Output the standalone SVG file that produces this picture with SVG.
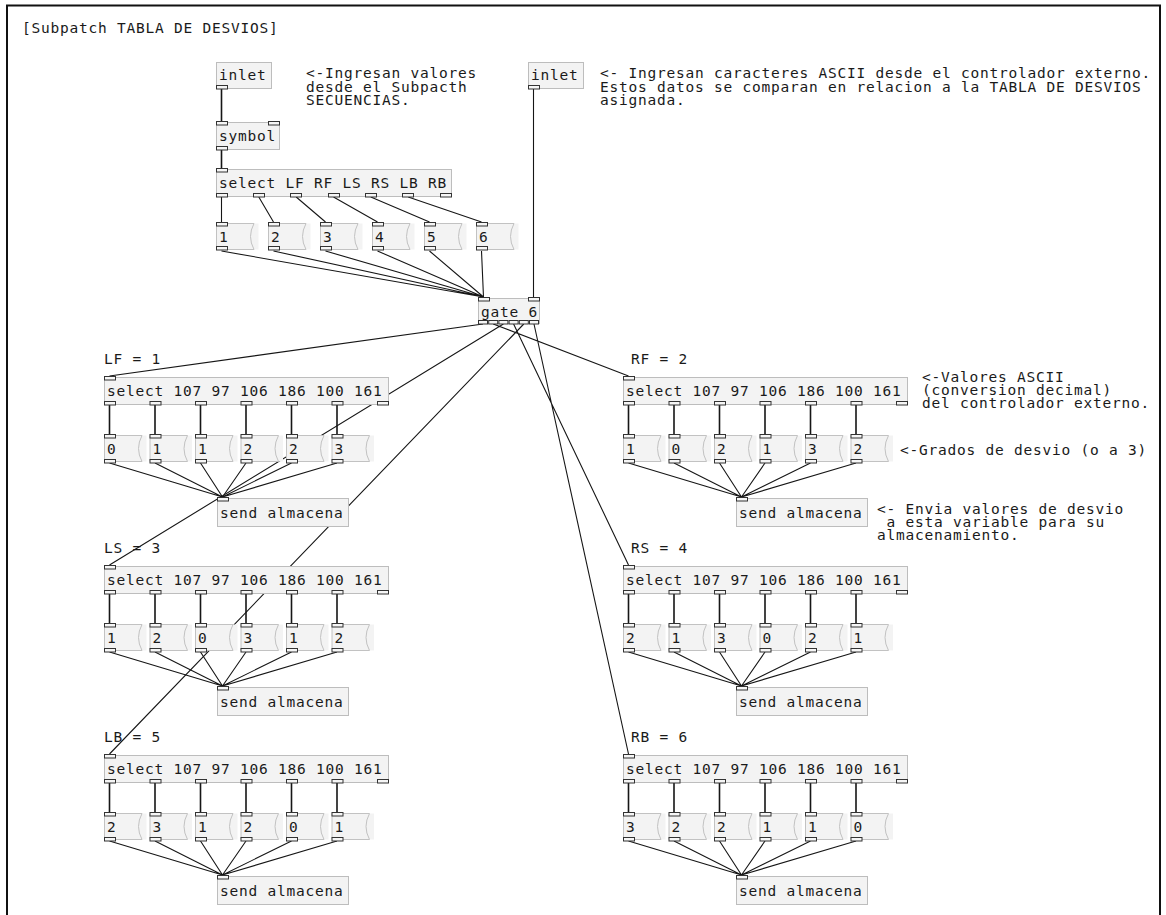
<svg xmlns="http://www.w3.org/2000/svg" width="1166" height="915" viewBox="0 0 1166 915">
<style>
.t{font-family:"DejaVu Sans Mono","Liberation Mono",monospace;font-size:14.5px;letter-spacing:0.77px;fill:#1a1a1a}
.box{fill:#f3f3f3;stroke:#bdbdbd;stroke-width:1}
.mf{fill:#f3f3f3;stroke:none}
.mo{fill:none;stroke:#c2c2c2;stroke-width:1}
.io{fill:#f6f6f6;stroke:#333;stroke-width:1}
.c{stroke:#161616;stroke-width:1.1;fill:none}
.v{stroke-width:1.6}
</style>
<defs>
<g id="msgshape">
<rect class="mf" x="0.5" y="0.5" width="42" height="26"/>
<path class="mo" d="M38,0.5 H0.5 V26.5 H38 M38,0.5 Q31,13.5 38,26.5"/>
</g>
</defs>
<rect x="0" y="0" width="1166" height="915" fill="#ffffff"/>
<path d="M7,915 V5.5 H1160 V915" fill="none" stroke="#111" stroke-width="2"/>
<text class="t" x="22" y="33">[Subpatch TABLA DE DESVIOS]</text>

<!-- comments -->
<g id="comment-ingresan">
<text class="t" x="306" y="78">&lt;-Ingresan valores<tspan x="306" dy="13.5">desde el Subpacth</tspan><tspan x="306" dy="13.5">SECUENCIAS.</tspan></text>
</g>
<g id="comment-ascii">
<text class="t" x="600" y="78">&lt;- Ingresan caracteres ASCII desde el controlador externo.<tspan x="600" dy="13.5">Estos datos se comparan en relacion a la TABLA DE DESVIOS</tspan><tspan x="600" dy="13.5">asignada.</tspan></text>
</g>
<g id="comment-valores">
<text class="t" x="922" y="382">&lt;-Valores ASCII<tspan x="922" dy="13">(conversion decimal)</tspan><tspan x="922" dy="13">del controlador externo.</tspan></text>
</g>
<g id="comment-grados">
<text class="t" x="900" y="455">&lt;-Grados de desvio (o a 3)</text>
</g>
<g id="comment-envia">
<text class="t" x="877" y="514" xml:space="preserve">&lt;- Envia valores de desvio<tspan x="877" dy="13"> a esta variable para su</tspan><tspan x="877" dy="13">almacenamiento.</tspan></text>
</g>

<!-- connectors -->
<g id="connectors" class="c">
<path class="v" d="M221.5,89 V121 M221.5,150 V168"/>
<path d="M221.5,197 V222 M258.8,197 L273.5,222 M296.2,197 L325.5,222 M333.5,197 L377.5,222 M370.8,197 L429.5,222 M408.2,197 L481.5,222"/>
<path d="M221.5,251 L483.5,297 M273.5,251 L483.5,297 M325.5,251 L483.5,297 M377.5,251 L483.5,297 M429.5,251 L483.5,297 M481.5,251 L483.5,297"/>
<path d="M533.5,89 V297"/>
<path d="M483,324 L109.5,376 M493.2,324 L628.5,376 M503.4,324 L109.5,565 M513.6,324 L628.5,565 M523.8,324 L109.5,754 M534,324 L628.5,754"/>
<g id="sec-conn-lf" transform="translate(104,377)">
<path class="v" d="M5.5,28 V57 M51,28 V57 M96.5,28 V57 M142,28 V57 M187.5,28 V57 M233,28 V57"/>
<path d="M5.5,86 L118.5,120 M51,86 L118.5,120 M96.5,86 L118.5,120 M142,86 L118.5,120 M187.5,86 L118.5,120 M233,86 L118.5,120"/>
</g>
<g id="sec-conn-rf" transform="translate(623,377)">
<path class="v" d="M5.5,28 V57 M51,28 V57 M96.5,28 V57 M142,28 V57 M187.5,28 V57 M233,28 V57"/>
<path d="M5.5,86 L118.5,120 M51,86 L118.5,120 M96.5,86 L118.5,120 M142,86 L118.5,120 M187.5,86 L118.5,120 M233,86 L118.5,120"/>
</g>
<g id="sec-conn-ls" transform="translate(104,566)">
<path class="v" d="M5.5,28 V57 M51,28 V57 M96.5,28 V57 M142,28 V57 M187.5,28 V57 M233,28 V57"/>
<path d="M5.5,86 L118.5,120 M51,86 L118.5,120 M96.5,86 L118.5,120 M142,86 L118.5,120 M187.5,86 L118.5,120 M233,86 L118.5,120"/>
</g>
<g id="sec-conn-rs" transform="translate(623,566)">
<path class="v" d="M5.5,28 V57 M51,28 V57 M96.5,28 V57 M142,28 V57 M187.5,28 V57 M233,28 V57"/>
<path d="M5.5,86 L118.5,120 M51,86 L118.5,120 M96.5,86 L118.5,120 M142,86 L118.5,120 M187.5,86 L118.5,120 M233,86 L118.5,120"/>
</g>
<g id="sec-conn-lb" transform="translate(104,755)">
<path class="v" d="M5.5,28 V57 M51,28 V57 M96.5,28 V57 M142,28 V57 M187.5,28 V57 M233,28 V57"/>
<path d="M5.5,86 L118.5,120 M51,86 L118.5,120 M96.5,86 L118.5,120 M142,86 L118.5,120 M187.5,86 L118.5,120 M233,86 L118.5,120"/>
</g>
<g id="sec-conn-rb" transform="translate(623,755)">
<path class="v" d="M5.5,28 V57 M51,28 V57 M96.5,28 V57 M142,28 V57 M187.5,28 V57 M233,28 V57"/>
<path d="M5.5,86 L118.5,120 M51,86 L118.5,120 M96.5,86 L118.5,120 M142,86 L118.5,120 M187.5,86 L118.5,120 M233,86 L118.5,120"/>
</g>
</g>

<!-- top nodes -->
<g id="inlet1"><rect class="box" x="216.5" y="62.5" width="55" height="26"/><rect class="io" x="216.5" y="85.5" width="11" height="3.5"/><text class="t" x="219" y="80">inlet</text></g>
<g id="symbol"><rect class="box" x="216.5" y="122.5" width="63" height="27"/><rect class="io" x="216.5" y="121.5" width="11" height="3.5"/><rect class="io" x="268.5" y="121.5" width="11" height="3.5"/><rect class="io" x="216.5" y="146.5" width="11" height="3.5"/><text class="t" x="219" y="141">symbol</text></g>
<g id="select-top"><rect class="box" x="216.5" y="169.5" width="235" height="27"/><rect class="io" x="216.5" y="168.5" width="11" height="3.5"/>
<rect class="io" x="216.5" y="193.5" width="11" height="3.5"/><rect class="io" x="253.5" y="193.5" width="11" height="3.5"/><rect class="io" x="290.5" y="193.5" width="11" height="3.5"/><rect class="io" x="328.5" y="193.5" width="11" height="3.5"/><rect class="io" x="365.5" y="193.5" width="11" height="3.5"/><rect class="io" x="402.5" y="193.5" width="11" height="3.5"/><rect class="io" x="440.5" y="193.5" width="11" height="3.5"/>
<text class="t" x="219" y="188">select LF RF LS RS LB RB</text></g>
<g id="msg-top-1" transform="translate(216,223)"><use href="#msgshape"/><rect class="io" x="0.5" y="-0.5" width="11" height="3.5"/><rect class="io" x="0.5" y="23.5" width="11" height="3.5"/><text class="t" x="3" y="18.5">1</text></g>
<g id="msg-top-2" transform="translate(268,223)"><use href="#msgshape"/><rect class="io" x="0.5" y="-0.5" width="11" height="3.5"/><rect class="io" x="0.5" y="23.5" width="11" height="3.5"/><text class="t" x="3" y="18.5">2</text></g>
<g id="msg-top-3" transform="translate(320,223)"><use href="#msgshape"/><rect class="io" x="0.5" y="-0.5" width="11" height="3.5"/><rect class="io" x="0.5" y="23.5" width="11" height="3.5"/><text class="t" x="3" y="18.5">3</text></g>
<g id="msg-top-4" transform="translate(372,223)"><use href="#msgshape"/><rect class="io" x="0.5" y="-0.5" width="11" height="3.5"/><rect class="io" x="0.5" y="23.5" width="11" height="3.5"/><text class="t" x="3" y="18.5">4</text></g>
<g id="msg-top-5" transform="translate(424,223)"><use href="#msgshape"/><rect class="io" x="0.5" y="-0.5" width="11" height="3.5"/><rect class="io" x="0.5" y="23.5" width="11" height="3.5"/><text class="t" x="3" y="18.5">5</text></g>
<g id="msg-top-6" transform="translate(476,223)"><use href="#msgshape"/><rect class="io" x="0.5" y="-0.5" width="11" height="3.5"/><rect class="io" x="0.5" y="23.5" width="11" height="3.5"/><text class="t" x="3" y="18.5">6</text></g>
<g id="inlet2"><rect class="box" x="528.5" y="62.5" width="55" height="26"/><rect class="io" x="528.5" y="85.5" width="11" height="3.5"/><text class="t" x="531" y="80">inlet</text></g>
<g id="gate"><rect class="box" x="478.5" y="298.5" width="61" height="25"/><rect class="io" x="478.5" y="297.5" width="11" height="3.5"/><rect class="io" x="528.5" y="297.5" width="11" height="3.5"/>
<rect class="io" x="478.5" y="320.5" width="9" height="3.5"/><rect class="io" x="488.7" y="320.5" width="9" height="3.5"/><rect class="io" x="498.9" y="320.5" width="9" height="3.5"/><rect class="io" x="509.1" y="320.5" width="9" height="3.5"/><rect class="io" x="519.3" y="320.5" width="9" height="3.5"/><rect class="io" x="529.5" y="320.5" width="9" height="3.5"/>
<text class="t" x="481" y="316.5">gate 6</text></g>

<!-- sections -->
<g id="sec-lf" transform="translate(104,377)">
<text class="t" x="0" y="-13">LF = 1</text>
<g id="lf-select"><rect class="box" x="0.5" y="0.5" width="284" height="27"/><rect class="io" x="0.5" y="-0.5" width="11" height="3.5"/><rect class="io" x="0.5" y="24.5" width="11" height="3.5"/><rect class="io" x="46" y="24.5" width="11" height="3.5"/><rect class="io" x="91.5" y="24.5" width="11" height="3.5"/><rect class="io" x="137" y="24.5" width="11" height="3.5"/><rect class="io" x="182.5" y="24.5" width="11" height="3.5"/><rect class="io" x="228" y="24.5" width="11" height="3.5"/><rect class="io" x="273.5" y="24.5" width="11" height="3.5"/><text class="t" x="3" y="19">select 107 97 106 186 100 161</text></g>
<g id="lf-m1" transform="translate(0,58)"><use href="#msgshape"/><rect class="io" x="0.5" y="-0.5" width="11" height="3.5"/><rect class="io" x="0.5" y="24.5" width="11" height="3.5"/><text class="t" x="3" y="18.5">0</text></g>
<g id="lf-m2" transform="translate(45.5,58)"><use href="#msgshape"/><rect class="io" x="0.5" y="-0.5" width="11" height="3.5"/><rect class="io" x="0.5" y="24.5" width="11" height="3.5"/><text class="t" x="3" y="18.5">1</text></g>
<g id="lf-m3" transform="translate(91,58)"><use href="#msgshape"/><rect class="io" x="0.5" y="-0.5" width="11" height="3.5"/><rect class="io" x="0.5" y="24.5" width="11" height="3.5"/><text class="t" x="3" y="18.5">1</text></g>
<g id="lf-m4" transform="translate(136.5,58)"><use href="#msgshape"/><rect class="io" x="0.5" y="-0.5" width="11" height="3.5"/><rect class="io" x="0.5" y="24.5" width="11" height="3.5"/><text class="t" x="3" y="18.5">2</text></g>
<g id="lf-m5" transform="translate(182,58)"><use href="#msgshape"/><rect class="io" x="0.5" y="-0.5" width="11" height="3.5"/><rect class="io" x="0.5" y="24.5" width="11" height="3.5"/><text class="t" x="3" y="18.5">2</text></g>
<g id="lf-m6" transform="translate(227.5,58)"><use href="#msgshape"/><rect class="io" x="0.5" y="-0.5" width="11" height="3.5"/><rect class="io" x="0.5" y="24.5" width="11" height="3.5"/><text class="t" x="3" y="18.5">3</text></g>
<g id="lf-send" transform="translate(113,121)"><rect class="box" x="0.5" y="0.5" width="131" height="28"/><rect class="io" x="0.5" y="-0.5" width="11" height="3.5"/><text class="t" x="3" y="19.5">send almacena</text></g>
</g>

<g id="sec-rf" transform="translate(623,377)">
<text class="t" x="8" y="-13">RF = 2</text>
<g id="rf-select"><rect class="box" x="0.5" y="0.5" width="284" height="27"/><rect class="io" x="0.5" y="-0.5" width="11" height="3.5"/><rect class="io" x="0.5" y="24.5" width="11" height="3.5"/><rect class="io" x="46" y="24.5" width="11" height="3.5"/><rect class="io" x="91.5" y="24.5" width="11" height="3.5"/><rect class="io" x="137" y="24.5" width="11" height="3.5"/><rect class="io" x="182.5" y="24.5" width="11" height="3.5"/><rect class="io" x="228" y="24.5" width="11" height="3.5"/><rect class="io" x="273.5" y="24.5" width="11" height="3.5"/><text class="t" x="3" y="19">select 107 97 106 186 100 161</text></g>
<g id="rf-m1" transform="translate(0,58)"><use href="#msgshape"/><rect class="io" x="0.5" y="-0.5" width="11" height="3.5"/><rect class="io" x="0.5" y="24.5" width="11" height="3.5"/><text class="t" x="3" y="18.5">1</text></g>
<g id="rf-m2" transform="translate(45.5,58)"><use href="#msgshape"/><rect class="io" x="0.5" y="-0.5" width="11" height="3.5"/><rect class="io" x="0.5" y="24.5" width="11" height="3.5"/><text class="t" x="3" y="18.5">0</text></g>
<g id="rf-m3" transform="translate(91,58)"><use href="#msgshape"/><rect class="io" x="0.5" y="-0.5" width="11" height="3.5"/><rect class="io" x="0.5" y="24.5" width="11" height="3.5"/><text class="t" x="3" y="18.5">2</text></g>
<g id="rf-m4" transform="translate(136.5,58)"><use href="#msgshape"/><rect class="io" x="0.5" y="-0.5" width="11" height="3.5"/><rect class="io" x="0.5" y="24.5" width="11" height="3.5"/><text class="t" x="3" y="18.5">1</text></g>
<g id="rf-m5" transform="translate(182,58)"><use href="#msgshape"/><rect class="io" x="0.5" y="-0.5" width="11" height="3.5"/><rect class="io" x="0.5" y="24.5" width="11" height="3.5"/><text class="t" x="3" y="18.5">3</text></g>
<g id="rf-m6" transform="translate(227.5,58)"><use href="#msgshape"/><rect class="io" x="0.5" y="-0.5" width="11" height="3.5"/><rect class="io" x="0.5" y="24.5" width="11" height="3.5"/><text class="t" x="3" y="18.5">2</text></g>
<g id="rf-send" transform="translate(113,121)"><rect class="box" x="0.5" y="0.5" width="131" height="28"/><rect class="io" x="0.5" y="-0.5" width="11" height="3.5"/><text class="t" x="3" y="19.5">send almacena</text></g>
</g>

<g id="sec-ls" transform="translate(104,566)">
<text class="t" x="0" y="-13">LS = 3</text>
<g id="ls-select"><rect class="box" x="0.5" y="0.5" width="284" height="27"/><rect class="io" x="0.5" y="-0.5" width="11" height="3.5"/><rect class="io" x="0.5" y="24.5" width="11" height="3.5"/><rect class="io" x="46" y="24.5" width="11" height="3.5"/><rect class="io" x="91.5" y="24.5" width="11" height="3.5"/><rect class="io" x="137" y="24.5" width="11" height="3.5"/><rect class="io" x="182.5" y="24.5" width="11" height="3.5"/><rect class="io" x="228" y="24.5" width="11" height="3.5"/><rect class="io" x="273.5" y="24.5" width="11" height="3.5"/><text class="t" x="3" y="19">select 107 97 106 186 100 161</text></g>
<g id="ls-m1" transform="translate(0,58)"><use href="#msgshape"/><rect class="io" x="0.5" y="-0.5" width="11" height="3.5"/><rect class="io" x="0.5" y="24.5" width="11" height="3.5"/><text class="t" x="3" y="18.5">1</text></g>
<g id="ls-m2" transform="translate(45.5,58)"><use href="#msgshape"/><rect class="io" x="0.5" y="-0.5" width="11" height="3.5"/><rect class="io" x="0.5" y="24.5" width="11" height="3.5"/><text class="t" x="3" y="18.5">2</text></g>
<g id="ls-m3" transform="translate(91,58)"><use href="#msgshape"/><rect class="io" x="0.5" y="-0.5" width="11" height="3.5"/><rect class="io" x="0.5" y="24.5" width="11" height="3.5"/><text class="t" x="3" y="18.5">0</text></g>
<g id="ls-m4" transform="translate(136.5,58)"><use href="#msgshape"/><rect class="io" x="0.5" y="-0.5" width="11" height="3.5"/><rect class="io" x="0.5" y="24.5" width="11" height="3.5"/><text class="t" x="3" y="18.5">3</text></g>
<g id="ls-m5" transform="translate(182,58)"><use href="#msgshape"/><rect class="io" x="0.5" y="-0.5" width="11" height="3.5"/><rect class="io" x="0.5" y="24.5" width="11" height="3.5"/><text class="t" x="3" y="18.5">1</text></g>
<g id="ls-m6" transform="translate(227.5,58)"><use href="#msgshape"/><rect class="io" x="0.5" y="-0.5" width="11" height="3.5"/><rect class="io" x="0.5" y="24.5" width="11" height="3.5"/><text class="t" x="3" y="18.5">2</text></g>
<g id="ls-send" transform="translate(113,121)"><rect class="box" x="0.5" y="0.5" width="131" height="28"/><rect class="io" x="0.5" y="-0.5" width="11" height="3.5"/><text class="t" x="3" y="19.5">send almacena</text></g>
</g>

<g id="sec-rs" transform="translate(623,566)">
<text class="t" x="8" y="-13">RS = 4</text>
<g id="rs-select"><rect class="box" x="0.5" y="0.5" width="284" height="27"/><rect class="io" x="0.5" y="-0.5" width="11" height="3.5"/><rect class="io" x="0.5" y="24.5" width="11" height="3.5"/><rect class="io" x="46" y="24.5" width="11" height="3.5"/><rect class="io" x="91.5" y="24.5" width="11" height="3.5"/><rect class="io" x="137" y="24.5" width="11" height="3.5"/><rect class="io" x="182.5" y="24.5" width="11" height="3.5"/><rect class="io" x="228" y="24.5" width="11" height="3.5"/><rect class="io" x="273.5" y="24.5" width="11" height="3.5"/><text class="t" x="3" y="19">select 107 97 106 186 100 161</text></g>
<g id="rs-m1" transform="translate(0,58)"><use href="#msgshape"/><rect class="io" x="0.5" y="-0.5" width="11" height="3.5"/><rect class="io" x="0.5" y="24.5" width="11" height="3.5"/><text class="t" x="3" y="18.5">2</text></g>
<g id="rs-m2" transform="translate(45.5,58)"><use href="#msgshape"/><rect class="io" x="0.5" y="-0.5" width="11" height="3.5"/><rect class="io" x="0.5" y="24.5" width="11" height="3.5"/><text class="t" x="3" y="18.5">1</text></g>
<g id="rs-m3" transform="translate(91,58)"><use href="#msgshape"/><rect class="io" x="0.5" y="-0.5" width="11" height="3.5"/><rect class="io" x="0.5" y="24.5" width="11" height="3.5"/><text class="t" x="3" y="18.5">3</text></g>
<g id="rs-m4" transform="translate(136.5,58)"><use href="#msgshape"/><rect class="io" x="0.5" y="-0.5" width="11" height="3.5"/><rect class="io" x="0.5" y="24.5" width="11" height="3.5"/><text class="t" x="3" y="18.5">0</text></g>
<g id="rs-m5" transform="translate(182,58)"><use href="#msgshape"/><rect class="io" x="0.5" y="-0.5" width="11" height="3.5"/><rect class="io" x="0.5" y="24.5" width="11" height="3.5"/><text class="t" x="3" y="18.5">2</text></g>
<g id="rs-m6" transform="translate(227.5,58)"><use href="#msgshape"/><rect class="io" x="0.5" y="-0.5" width="11" height="3.5"/><rect class="io" x="0.5" y="24.5" width="11" height="3.5"/><text class="t" x="3" y="18.5">1</text></g>
<g id="rs-send" transform="translate(113,121)"><rect class="box" x="0.5" y="0.5" width="131" height="28"/><rect class="io" x="0.5" y="-0.5" width="11" height="3.5"/><text class="t" x="3" y="19.5">send almacena</text></g>
</g>

<g id="sec-lb" transform="translate(104,755)">
<text class="t" x="0" y="-13">LB = 5</text>
<g id="lb-select"><rect class="box" x="0.5" y="0.5" width="284" height="27"/><rect class="io" x="0.5" y="-0.5" width="11" height="3.5"/><rect class="io" x="0.5" y="24.5" width="11" height="3.5"/><rect class="io" x="46" y="24.5" width="11" height="3.5"/><rect class="io" x="91.5" y="24.5" width="11" height="3.5"/><rect class="io" x="137" y="24.5" width="11" height="3.5"/><rect class="io" x="182.5" y="24.5" width="11" height="3.5"/><rect class="io" x="228" y="24.5" width="11" height="3.5"/><rect class="io" x="273.5" y="24.5" width="11" height="3.5"/><text class="t" x="3" y="19">select 107 97 106 186 100 161</text></g>
<g id="lb-m1" transform="translate(0,58)"><use href="#msgshape"/><rect class="io" x="0.5" y="-0.5" width="11" height="3.5"/><rect class="io" x="0.5" y="24.5" width="11" height="3.5"/><text class="t" x="3" y="18.5">2</text></g>
<g id="lb-m2" transform="translate(45.5,58)"><use href="#msgshape"/><rect class="io" x="0.5" y="-0.5" width="11" height="3.5"/><rect class="io" x="0.5" y="24.5" width="11" height="3.5"/><text class="t" x="3" y="18.5">3</text></g>
<g id="lb-m3" transform="translate(91,58)"><use href="#msgshape"/><rect class="io" x="0.5" y="-0.5" width="11" height="3.5"/><rect class="io" x="0.5" y="24.5" width="11" height="3.5"/><text class="t" x="3" y="18.5">1</text></g>
<g id="lb-m4" transform="translate(136.5,58)"><use href="#msgshape"/><rect class="io" x="0.5" y="-0.5" width="11" height="3.5"/><rect class="io" x="0.5" y="24.5" width="11" height="3.5"/><text class="t" x="3" y="18.5">2</text></g>
<g id="lb-m5" transform="translate(182,58)"><use href="#msgshape"/><rect class="io" x="0.5" y="-0.5" width="11" height="3.5"/><rect class="io" x="0.5" y="24.5" width="11" height="3.5"/><text class="t" x="3" y="18.5">0</text></g>
<g id="lb-m6" transform="translate(227.5,58)"><use href="#msgshape"/><rect class="io" x="0.5" y="-0.5" width="11" height="3.5"/><rect class="io" x="0.5" y="24.5" width="11" height="3.5"/><text class="t" x="3" y="18.5">1</text></g>
<g id="lb-send" transform="translate(113,121)"><rect class="box" x="0.5" y="0.5" width="131" height="28"/><rect class="io" x="0.5" y="-0.5" width="11" height="3.5"/><text class="t" x="3" y="19.5">send almacena</text></g>
</g>

<g id="sec-rb" transform="translate(623,755)">
<text class="t" x="8" y="-13">RB = 6</text>
<g id="rb-select"><rect class="box" x="0.5" y="0.5" width="284" height="27"/><rect class="io" x="0.5" y="-0.5" width="11" height="3.5"/><rect class="io" x="0.5" y="24.5" width="11" height="3.5"/><rect class="io" x="46" y="24.5" width="11" height="3.5"/><rect class="io" x="91.5" y="24.5" width="11" height="3.5"/><rect class="io" x="137" y="24.5" width="11" height="3.5"/><rect class="io" x="182.5" y="24.5" width="11" height="3.5"/><rect class="io" x="228" y="24.5" width="11" height="3.5"/><rect class="io" x="273.5" y="24.5" width="11" height="3.5"/><text class="t" x="3" y="19">select 107 97 106 186 100 161</text></g>
<g id="rb-m1" transform="translate(0,58)"><use href="#msgshape"/><rect class="io" x="0.5" y="-0.5" width="11" height="3.5"/><rect class="io" x="0.5" y="24.5" width="11" height="3.5"/><text class="t" x="3" y="18.5">3</text></g>
<g id="rb-m2" transform="translate(45.5,58)"><use href="#msgshape"/><rect class="io" x="0.5" y="-0.5" width="11" height="3.5"/><rect class="io" x="0.5" y="24.5" width="11" height="3.5"/><text class="t" x="3" y="18.5">2</text></g>
<g id="rb-m3" transform="translate(91,58)"><use href="#msgshape"/><rect class="io" x="0.5" y="-0.5" width="11" height="3.5"/><rect class="io" x="0.5" y="24.5" width="11" height="3.5"/><text class="t" x="3" y="18.5">2</text></g>
<g id="rb-m4" transform="translate(136.5,58)"><use href="#msgshape"/><rect class="io" x="0.5" y="-0.5" width="11" height="3.5"/><rect class="io" x="0.5" y="24.5" width="11" height="3.5"/><text class="t" x="3" y="18.5">1</text></g>
<g id="rb-m5" transform="translate(182,58)"><use href="#msgshape"/><rect class="io" x="0.5" y="-0.5" width="11" height="3.5"/><rect class="io" x="0.5" y="24.5" width="11" height="3.5"/><text class="t" x="3" y="18.5">1</text></g>
<g id="rb-m6" transform="translate(227.5,58)"><use href="#msgshape"/><rect class="io" x="0.5" y="-0.5" width="11" height="3.5"/><rect class="io" x="0.5" y="24.5" width="11" height="3.5"/><text class="t" x="3" y="18.5">0</text></g>
<g id="rb-send" transform="translate(113,121)"><rect class="box" x="0.5" y="0.5" width="131" height="28"/><rect class="io" x="0.5" y="-0.5" width="11" height="3.5"/><text class="t" x="3" y="19.5">send almacena</text></g>
</g>
</svg>
